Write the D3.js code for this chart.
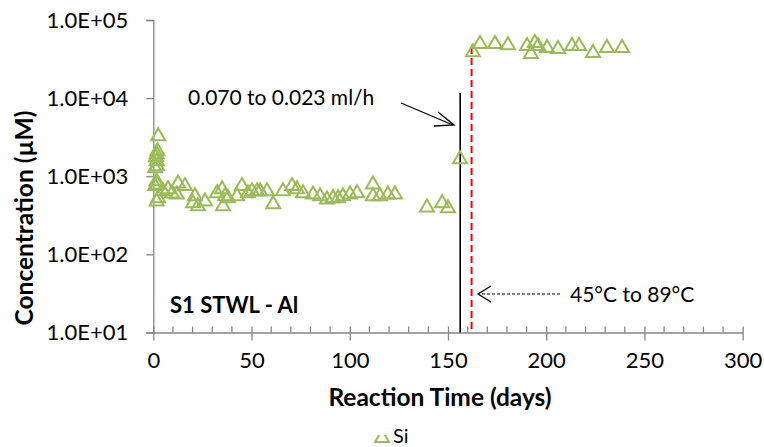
<!DOCTYPE html>
<html>
<head>
<meta charset="utf-8">
<script src="https://cdn.jsdelivr.net/npm/d3@7"></script>
<style>
  body { margin: 0; background: #fff; }
  text { font-family: Lato, "Open Sans", sans-serif; }
</style>
</head>
<body>
<div id="chart"></div>
<script>
// Si concentration vs reaction time (log scale)

// --- Data ---
const siDays = [
  2.5, 1.7, 2.1, 1.4, 1.7, 0.9, 1.9, 1.7, 0.9, 2.0, 1.7, 2.5,
  4.9, 7.5, 9.5, 12.0, 12.6, 16.1, 20.2, 21.2, 22.7, 26.3, 32.4, 35.0,
  36.5, 35.5, 38.0, 42.6, 45.1, 48.2, 50.2, 52.8, 54.3, 57.9, 61.0, 66.0,
  70.6, 73.1, 76.2, 81.3, 84.9, 88.4, 91.5, 94.0, 96.5, 100.1, 103.7, 111.8,
  111.8, 115.3, 119.4, 123.0, 139.3, 147.0, 150.0, 156.1,
  162.7, 166.3, 173.9, 180.5, 190.2, 192.2, 194.2, 195.8, 200.4, 206.0,
  213.1, 216.7, 223.8, 230.9, 238.6
];
const siConc = [
  3360, 1970, 2150, 1800, 1600, 1300, 1380, 890, 770, 810, 490, 540,
  660, 700, 620, 600, 830, 770, 465, 570, 425, 490, 625, 700,
  570, 425, 540, 570, 770, 625, 660, 660, 660, 660, 450, 660,
  770, 700, 625, 600, 570, 520, 540, 540, 570, 600, 625, 810,
  570, 570, 600, 600, 410, 465, 400, 1700,
  39800, 50700, 50700, 49000, 47700, 37800, 52300, 47700, 45100, 43700,
  47700, 47700, 38900, 45100, 45000
];

const yTickValues = [1e1, 1e2, 1e3, 1e4, 1e5];
const yTickLabels = ["1.0E+01", "1.0E+02", "1.0E+03", "1.0E+04", "1.0E+05"];
const xTickValues = [0, 50, 100, 150, 200, 250, 300];

const flowChangeDay = 156.2;   // black line
const tempChangeDay = 162.0;   // red dashed line

// --- Sizes ---
const W = 764, H = 447;
const plot = { left: 153.3, right: 742.7, top: 20, bottom: 332.5 };
const green = "#9BBB59";
const axisColor = "#868686";

const svg = d3.select("#chart").append("svg")
  .attr("width", W)
  .attr("height", H);

// --- Scales ---
const x = d3.scaleLinear().domain([0, 300]).range([plot.left, plot.right]);
const y = d3.scaleLog().domain([1e1, 1e5]).range([plot.bottom, plot.top]);

// --- Axes ---
const yAxis = svg.append("g")
  .attr("transform", `translate(${plot.left},0)`)
  .call(d3.axisLeft(y).tickValues(yTickValues)
    .tickFormat((d, i) => yTickLabels[i]).tickSize(7).tickPadding(18));
yAxis.select(".domain").attr("stroke", axisColor).attr("stroke-width", 1.3);
yAxis.selectAll(".tick line").attr("stroke", axisColor).attr("stroke-width", 1.3);
yAxis.selectAll(".tick text").attr("fill", "#000").style("font-size", "22px");

// minor ticks x (every 10 days, inside)
svg.append("g")
  .selectAll("line")
  .data(d3.range(10, 300, 10).filter(d => d % 50 !== 0))
  .enter().append("line")
    .attr("x1", d => x(d)).attr("x2", d => x(d))
    .attr("y1", plot.bottom - 6).attr("y2", plot.bottom)
    .attr("stroke", axisColor).attr("stroke-width", 1.3);

const xAxis = svg.append("g")
  .attr("transform", `translate(0,${plot.bottom})`)
  .call(d3.axisBottom(x).tickValues(xTickValues).tickSize(8).tickPadding(12).tickSizeOuter(0));
xAxis.select(".domain").attr("stroke", axisColor).attr("stroke-width", 1.3);
xAxis.selectAll(".tick line").attr("stroke", axisColor).attr("stroke-width", 1.3).attr("y1", -6);
xAxis.selectAll(".tick text").attr("fill", "#000").style("font-size", "22px");

// --- Axis titles ---
svg.append("text")
  .attr("transform", `translate(33,218) rotate(-90)`)
  .attr("text-anchor", "middle")
  .style("font-size", "24.5px").style("font-weight", "bold")
  .text("Concentration (µM)");

svg.append("text")
  .attr("x", 440).attr("y", 406)
  .attr("text-anchor", "middle")
  .style("font-size", "24.5px").style("font-weight", "bold")
  .text("Reaction Time (days)");

// --- Vertical event lines ---
svg.append("line")
  .attr("x1", x(flowChangeDay)).attr("x2", x(flowChangeDay))
  .attr("y1", 93).attr("y2", plot.bottom)
  .attr("stroke", "#000").attr("stroke-width", 1.6);

svg.append("line")
  .attr("x1", x(tempChangeDay)).attr("x2", x(tempChangeDay))
  .attr("y1", 47).attr("y2", plot.bottom)
  .attr("stroke", "#FF0000").attr("stroke-width", 2)
  .attr("stroke-dasharray", "7,4");

// --- Points ---
const tri = "M0,-7L7,5L-7,5Z";
const pts = siDays.map((d, i) => ({ day: d, conc: siConc[i] }));
svg.append("g").selectAll("path")
  .data(pts)
  .enter().append("path")
    .attr("d", tri)
    .attr("transform", d => `translate(${x(d.day)},${y(d.conc)})`)
    .attr("fill", "none")
    .attr("stroke", green)
    .attr("stroke-width", 2);

// --- Annotations ---
svg.append("text")
  .attr("x", 188).attr("y", 105)
  .style("font-size", "21px")
  .text("0.070 to 0.023 ml/h");

// arrow to black line
svg.append("line")
  .attr("x1", 401).attr("y1", 103).attr("x2", 453).attr("y2", 125)
  .attr("stroke", "#000").attr("stroke-width", 1.3);
svg.append("path")
  .attr("d", "M438,112L454,125L434,126")
  .attr("fill", "none").attr("stroke", "#000").attr("stroke-width", 1.3);

// dashed arrow to red line
svg.append("line")
  .attr("x1", 560).attr("y1", 294).attr("x2", 479).attr("y2", 294)
  .attr("stroke", "#000").attr("stroke-width", 1.2)
  .attr("stroke-dasharray", "3,2");
svg.append("path")
  .attr("d", "M491,286L478,294L491,302")
  .attr("fill", "none").attr("stroke", "#000").attr("stroke-width", 1.3);

svg.append("text")
  .attr("x", 570).attr("y", 302)
  .style("font-size", "21px")
  .text("45°C to 89°C");

svg.append("text")
  .attr("x", 170).attr("y", 313)
  .style("font-size", "22px").style("font-weight", "bold")
  .text("S1 STWL - Al");

// --- Legend (symbol partly cut off, as in the original) ---
svg.append("clipPath").attr("id", "legclip")
  .append("rect").attr("x", 374).attr("y", 435).attr("width", 18).attr("height", 10);
svg.append("g")
  .attr("clip-path", "url(#legclip)")
  .append("path")
    .attr("d", tri)
    .attr("transform", "translate(382,437)")
    .attr("fill", "none").attr("stroke", green).attr("stroke-width", 2);
svg.append("text")
  .attr("x", 393).attr("y", 443)
  .style("font-size", "20px")
  .text("Si");
</script>
</body>
</html>
